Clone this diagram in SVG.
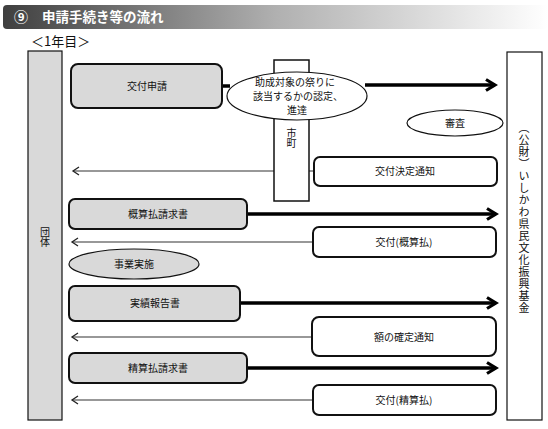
<svg xmlns="http://www.w3.org/2000/svg" width="548" height="429" viewBox="0 0 548 429">
<defs>
<linearGradient id="hdr" x1="0" y1="0" x2="1" y2="0">
<stop offset="0" stop-color="#3f3f3f"/>
<stop offset="0.5" stop-color="#b0b0b0"/>
<stop offset="1" stop-color="#ffffff"/>
</linearGradient>
<marker id="thinArrow" markerUnits="userSpaceOnUse" markerWidth="12" markerHeight="12" refX="7" refY="5" orient="auto" viewBox="0 0 12 10">
<path d="M1,1 L7,5 L1,9" fill="none" stroke="#222" stroke-width="1.3"/>
</marker>
<marker id="thickArrow" markerUnits="userSpaceOnUse" markerWidth="16" markerHeight="14" refX="13" refY="7" orient="auto" viewBox="0 0 16 14">
<path d="M4,1.5 L13,7 L4,12.5" fill="none" stroke="#000" stroke-width="3.2" stroke-linejoin="miter"/>
</marker>
</defs>
<style>
text{font-family:"Noto Sans CJK JP","Noto Sans CJK SC",sans-serif;fill:#111;}
.lbl{font-size:10px;text-anchor:middle;}
.vert{font-size:10px;text-anchor:middle;writing-mode:vertical-rl;}
.grey{fill:#d9d9d9;stroke:#111;stroke-width:2;}
.white{fill:#fff;stroke:#111;stroke-width:2;}
.thick{stroke:#000;stroke-width:3.5;fill:none;}
.thin{stroke:#333;stroke-width:1.2;fill:none;}
.col{stroke:#111;stroke-width:1.2;}
</style>
<rect x="3" y="5" width="545" height="24" rx="4" fill="url(#hdr)"/>
<text x="14" y="22" style="font-size:14px;font-weight:bold;fill:#fff">⑨</text>
<text x="42" y="22" style="font-size:13.5px;font-weight:bold;fill:#fff">申請手続き等の流れ</text>
<text x="31" y="46" style="font-size:13px">＜1年目＞</text>

<g id="connectors">
<line class="thick" x1="222" y1="86" x2="230" y2="86"/>
<line class="thick" x1="365" y1="85" x2="495" y2="85" marker-end="url(#thickArrow)"/>
<line class="thin" x1="314" y1="171" x2="73" y2="171" marker-end="url(#thinArrow)"/>
<line class="thick" x1="247" y1="214" x2="496" y2="214" marker-end="url(#thickArrow)"/>
<line class="thin" x1="313" y1="242" x2="72" y2="242" marker-end="url(#thinArrow)"/>
<line class="thick" x1="240" y1="303" x2="496" y2="303" marker-end="url(#thickArrow)"/>
<line class="thin" x1="312" y1="337" x2="72" y2="337" stroke="#666" marker-end="url(#thinArrow)"/>
<line class="thick" x1="247" y1="368" x2="496" y2="368" marker-end="url(#thickArrow)"/>
<line class="thin" x1="313" y1="400" x2="72" y2="400" marker-end="url(#thinArrow)"/>
</g>

<g id="dantai">
<rect x="28" y="51" width="34" height="369" fill="#d9d9d9" class="col"/>
<text class="vert" x="45" y="237">団体</text>
</g>

<g id="kikin">
<rect x="507" y="52" width="35" height="368" fill="#fff" class="col"/>
<text x="524" y="218" style="font-size:11px;writing-mode:vertical-rl;text-anchor:middle;letter-spacing:1px">（公財）いしかわ県民文化振興基金</text>
</g>

<g id="shicho">
<rect x="274" y="60" width="35" height="141" fill="#fff" stroke="#111" stroke-width="1.5"/>
<text class="vert" x="291.5" y="138">市町</text>
</g>

<g id="koufu-shinsei">
<rect class="grey" x="71" y="64" width="151" height="44" rx="7"/>
<text class="lbl" x="147" y="90">交付申請</text>
</g>

<g id="nintei">
<ellipse cx="297" cy="96" rx="70" ry="24" fill="#fff" stroke="#111" stroke-width="1.2"/>
<text class="lbl" x="295" y="86">助成対象の祭りに</text>
<text class="lbl" x="298" y="100">該当するかの認定、</text>
<text class="lbl" x="297" y="114">進達</text>
</g>

<g id="shinsa">
<ellipse cx="455" cy="123" rx="48" ry="13" fill="#fff" stroke="#111" stroke-width="1.2"/>
<text class="lbl" x="455" y="127">審査</text>
</g>

<g id="kettei">
<rect class="white" x="314" y="157" width="183" height="29" rx="6"/>
<text class="lbl" x="405" y="175">交付決定通知</text>
</g>

<g id="gaisan-seikyu">
<rect class="grey" x="69" y="199" width="178" height="30" rx="6"/>
<text class="lbl" x="158" y="218">概算払請求書</text>
</g>

<g id="koufu-gaisan">
<rect class="white" x="313" y="227" width="183" height="30" rx="6"/>
<text class="lbl" x="404" y="246">交付(概算払)</text>
</g>

<g id="jigyo">
<ellipse cx="134" cy="264" rx="65" ry="15" fill="#d9d9d9" stroke="#111" stroke-width="1.2"/>
<text class="lbl" x="134" y="268">事業実施</text>
</g>

<g id="jisseki">
<rect class="grey" x="69" y="286" width="171" height="35" rx="6"/>
<text class="lbl" x="155" y="307">実績報告書</text>
</g>

<g id="kakutei">
<rect class="white" x="312" y="317" width="184" height="39" rx="7"/>
<text class="lbl" x="404" y="341">額の確定通知</text>
</g>

<g id="seisan-seikyu">
<rect class="grey" x="69" y="353" width="178" height="30" rx="6"/>
<text class="lbl" x="158" y="372">精算払請求書</text>
</g>

<g id="koufu-seisan">
<rect class="white" x="313" y="385" width="183" height="30" rx="6"/>
<text class="lbl" x="404" y="404">交付(精算払)</text>
</g>
</svg>
